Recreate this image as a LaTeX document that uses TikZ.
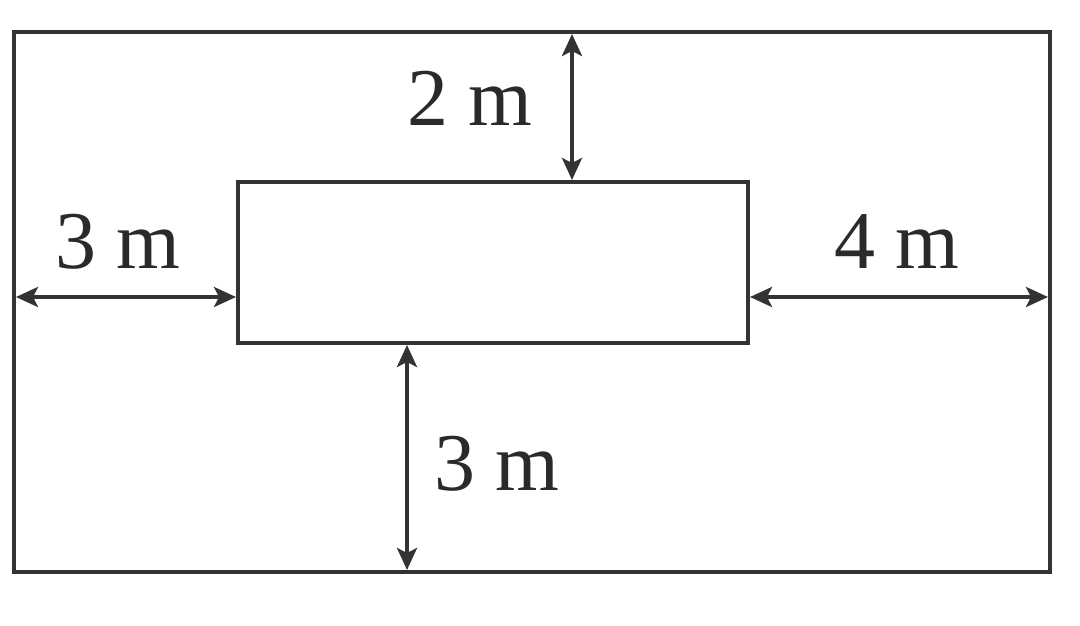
\documentclass[tikz,border=0pt]{standalone}
\usepackage{fontspec}
\setmainfont{Liberation Serif}
\usetikzlibrary{arrows.meta}
\definecolor{lc}{HTML}{333333}
\definecolor{tc}{HTML}{2a2a2a}
\tikzset{
  box/.style={draw=lc, line width=4.5pt, line join=miter},
  dim/.style={draw=lc, line width=3.5pt, {Stealth[length=22pt,width=20pt,inset=5pt]}-{Stealth[length=22pt,width=20pt,inset=5pt]}},
  lbl/.style={text=tc, font=\fontsize{82}{92}\selectfont, anchor=base, inner sep=0pt}
}
\begin{document}
\begin{tikzpicture}[x=1pt,y=-1pt]
\useasboundingbox (0,0) rectangle (1080,626);
\fill[white] (0,0) rectangle (1080,626);
% outer
\coordinate (o1) at (14,32);
\coordinate (o2) at (1050,572);
\draw[box] (o1) rectangle (o2);
% inner
\coordinate (i1) at (238,182);
\coordinate (i2) at (748,343);
\draw[box, line width=4pt] (i1) rectangle (i2);
% dimension end points
\coordinate (tA) at (572,34);
\coordinate (tB) at (572,180);
\coordinate (lA) at (16,297);
\coordinate (lB) at (236,297);
\coordinate (rA) at (750,297);
\coordinate (rB) at (1048,297);
\coordinate (bA) at (407,345);
\coordinate (bB) at (407,570);
\draw[dim] (tA) -- (tB);
\draw[dim] (lA) -- (lB);
\draw[dim] (rA) -- (rB);
\draw[dim] (bA) -- (bB);
% labels
\node[lbl] (l2) at (470,125) {2 m};
\node[lbl] (l3a) at (118,268) {3 m};
\node[lbl] (l4) at (897,268) {4 m};
\node[lbl] (l3b) at (497,490) {3 m};
\end{tikzpicture}
\end{document}
